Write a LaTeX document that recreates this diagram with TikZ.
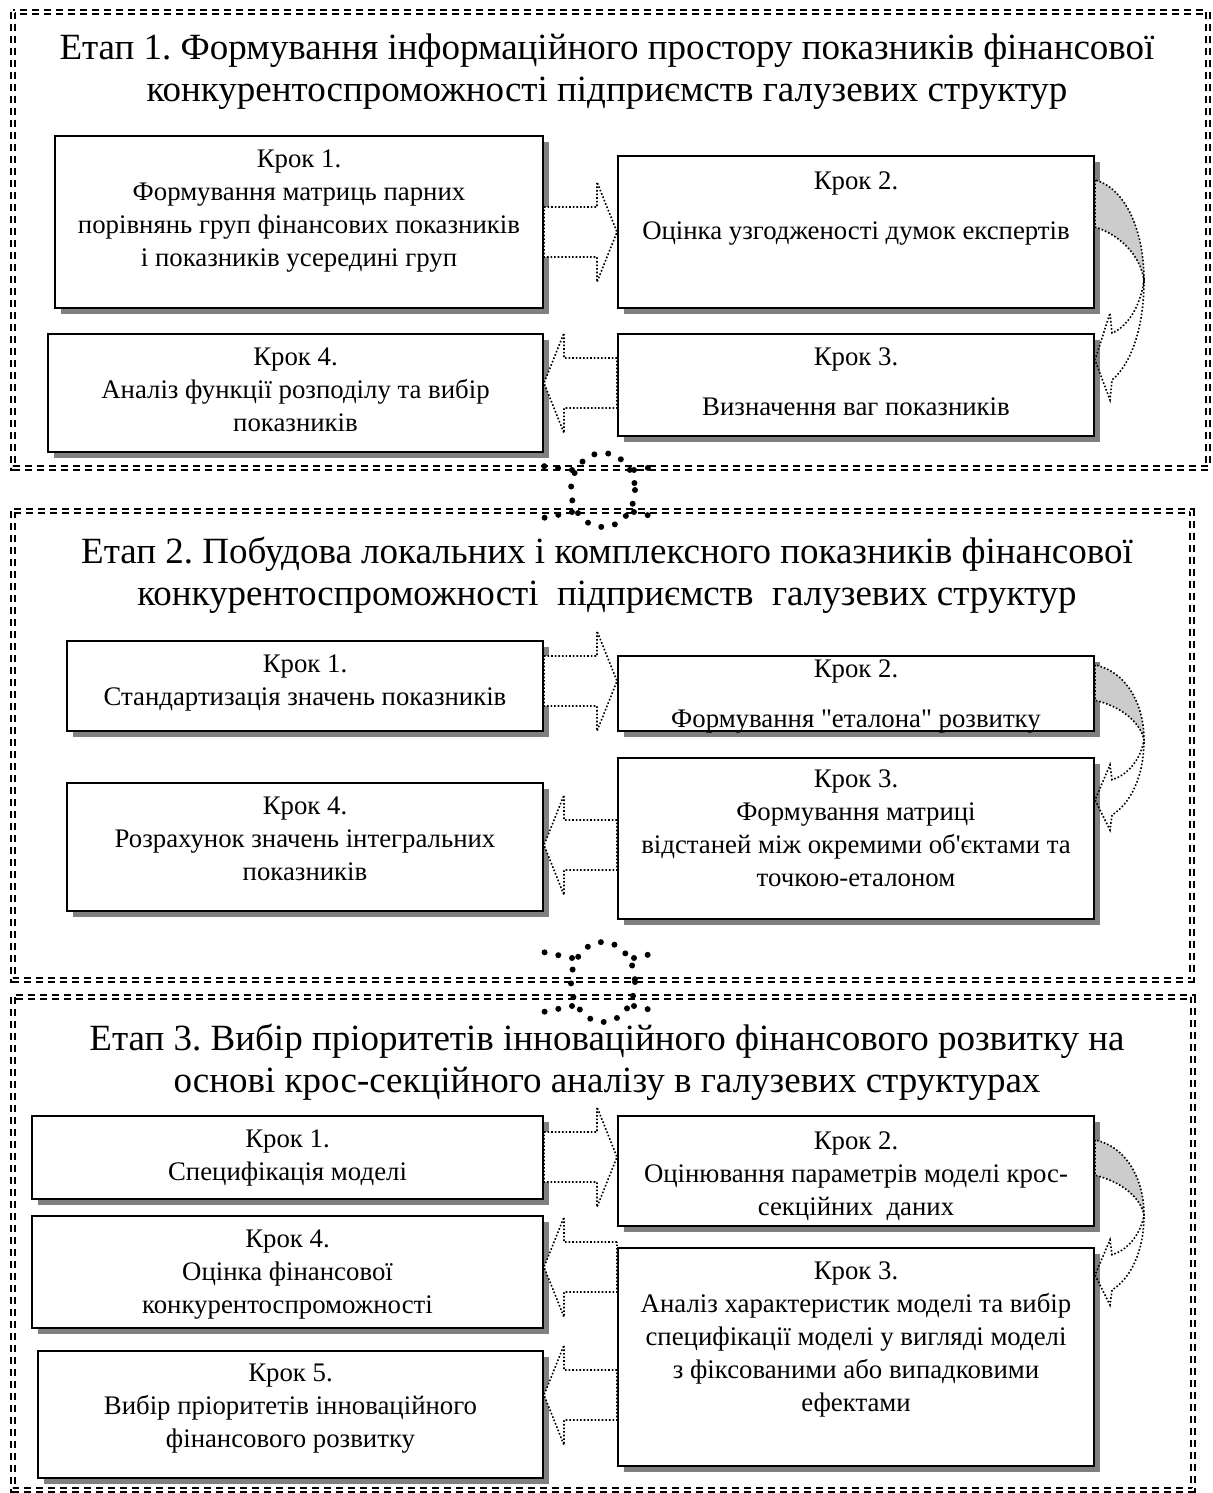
\documentclass[tikz,border=0pt]{standalone}
\usepackage{fontspec}
\setmainfont{Liberation Serif}[Ligatures=TeXOff]
\usetikzlibrary{calc,shadows}
\frenchspacing

\tikzset{
  stageframe/.style={draw, line width=0.7pt, double distance=1.2pt, dash pattern=on 3.5pt off 2.5pt},
  stagetitle/.style={align=center, inner sep=0pt, anchor=north, font=\fontsize{18.5}{21}\selectfont},
  stepbox/.style={draw, line width=1pt, fill=white, anchor=north west,
    drop shadow={shadow xshift=3pt, shadow yshift=-3pt, fill=black!50, opacity=1}},
  steptext/.style={align=center, inner sep=0pt, anchor=north, font=\fontsize{13.4}{16.5}\selectfont},
  blockline/.style={line width=0.8pt, dash pattern=on 0.8pt off 1pt},
  dotlink/.style={line width=3pt, line cap=round, dash pattern=on 0pt off 7pt},
}

% wide hollow arrow between two boxes at height #3
\newcommand{\fatarrow}[3]{%
  \draw[blockline, fill=white] let \p1=(#1 |- 0,#3), \p2=(#2 |- 0,#3), \n1={10*sign(\x2-\x1)} in
    ({\x1},{\y1+12.5pt}) -- ({\x2-\n1},{\y1+12.5pt}) -- ({\x2-\n1},{\y1+25pt}) -- ({\x2},{\y1})
    -- ({\x2-\n1},{\y1-25pt}) -- ({\x2-\n1},{\y1-12.5pt}) -- ({\x1},{\y1-12.5pt}) -- cycle;}

% bent arrow on the right side, from box to the box below
\newcommand{\bendarrow}[2]{%
  \begin{scope}[shift={(#1)}, yscale=#2]
    \fill[black!20] (0,0) .. controls (30,8) and (49,50) .. (49,100)
      .. controls (45,75) and (25,55) .. (0,47) -- cycle;
    \draw[blockline] (0,0) -- (0,47) .. controls (25,55) and (45,75) .. (49,100)
      .. controls (45,130) and (30,148) .. (17,153) -- (15,133) -- (0,180) -- (15,220) -- (17,200)
      .. controls (35,185) and (49,150) .. (49,100) .. controls (49,50) and (30,8) .. (0,0);
  \end{scope}}

\begin{document}
\begin{tikzpicture}[x=0.5pt, y=-0.5pt]
  \useasboundingbox (0,0) rectangle (1213,1493);

  % stage frames
  \draw[stageframe] (13,12) rectangle (1208,468);
  \draw[stageframe] (13,511) rectangle (1192,980);
  \draw[stageframe] (13,997) rectangle (1193,1490);

  % stage 1
  \node[stagetitle] (t1) at (607,33) {Етап 1. Формування інформаційного простору показників фінансової\\конкурентоспроможності підприємств галузевих структур};

  \node[stepbox, minimum width=244pt, minimum height=86pt] (s1k1) at (54,135) {};
  \node[steptext] (s1k1t) at ([yshift=-7pt]s1k1.north) {Крок 1.\\Формування матриць парних\\порівнянь груп фінансових показників\\і показників усередині груп};
  \node[stepbox, minimum width=238pt, minimum height=76pt] (s1k2) at (617,155) {};
  \node[steptext] (s1k2t) at ([yshift=-8pt]s1k2.north) {Крок 2.\\[8.5pt]Оцінка узгодженості думок експертів};
  \node[stepbox, minimum width=238pt, minimum height=51pt] (s1k3) at (617,333) {};
  \node[steptext] (s1k3t) at ([yshift=-7pt]s1k3.north) {Крок 3.\\[8.5pt]Визначення ваг показників};
  \node[stepbox, minimum width=247.5pt, minimum height=59pt] (s1k4) at (47,333) {};
  \node[steptext] (s1k4t) at ([yshift=-7pt]s1k4.north) {Крок 4.\\Аналіз функції розподілу та вибір\\показників};

  \fatarrow{s1k1.east}{s1k2.west}{232}
  \fatarrow{s1k3.west}{s1k4.east}{383}
  \bendarrow{s1k2.east |- 0,180}{1}

  % stage 2
  \node[stagetitle] (t2) at (607,537) {Етап 2. Побудова локальних і комплексного показників фінансової\\конкурентоспроможності\ \ підприємств\ \ галузевих структур};

  \node[stepbox, minimum width=238pt, minimum height=45pt] (s2k1) at (66,640) {};
  \node[steptext] (s2k1t) at ([yshift=-7pt]s2k1.north) {Крок 1.\\Стандартизація значень показників};
  \node[stepbox, minimum width=238pt, minimum height=37.5pt] (s2k2) at (617,655) {};
  \begin{scope}
    \clip (s2k2.south west) rectangle (s2k2.north east);
    \node[steptext] (s2k2t) at ([yshift=-2pt]s2k2.north) {Крок 2.\\[8.5pt]Формування "еталона" розвитку};
  \end{scope}
  \node[stepbox, minimum width=238pt, minimum height=80.5pt] (s2k3) at (617,757) {};
  \node[steptext] (s2k3t) at ([yshift=-6pt]s2k3.north) {Крок 3.\\Формування матриці\\відстаней між окремими об'єктами та\\точкою-еталоном};
  \node[stepbox, minimum width=238pt, minimum height=64pt] (s2k4) at (66,782) {};
  \node[steptext] (s2k4t) at ([yshift=-7pt]s2k4.north) {Крок 4.\\Розрахунок значень інтегральних\\показників};

  \fatarrow{s2k1.east}{s2k2.west}{681}
  \fatarrow{s2k3.west}{s2k4.east}{845}
  \bendarrow{s2k2.east |- 0,665}{0.75}

  % stage 3
  \node[stagetitle] (t3) at (607,1024) {Етап 3. Вибір пріоритетів інноваційного фінансового розвитку на\\основі крос-секційного аналізу в галузевих структурах};

  \node[stepbox, minimum width=255.5pt, minimum height=41.5pt] (s3k1) at (31,1115) {};
  \node[steptext] (s3k1t) at ([yshift=-7pt]s3k1.north) {Крок 1.\\Специфікація моделі};
  \node[stepbox, minimum width=238pt, minimum height=55pt] (s3k2) at (617,1115) {};
  \node[steptext] (s3k2t) at ([yshift=-8pt]s3k2.north) {Крок 2.\\Оцінювання параметрів моделі крос-\\секційних\ \ даних};
  \node[stepbox, minimum width=238pt, minimum height=109pt] (s3k3) at (617,1247) {};
  \node[steptext] (s3k3t) at ([yshift=-7pt]s3k3.north) {Крок 3.\\Аналіз характеристик моделі та вибір\\специфікації моделі у вигляді моделі\\з фіксованими або випадковими\\ефектами};
  \node[stepbox, minimum width=255.5pt, minimum height=56pt] (s3k4) at (31,1215) {};
  \node[steptext] (s3k4t) at ([yshift=-7pt]s3k4.north) {Крок 4.\\Оцінка фінансової\\конкурентоспроможності};
  \node[stepbox, minimum width=252.5pt, minimum height=63.5pt] (s3k5) at (37,1350) {};
  \node[steptext] (s3k5t) at ([yshift=-7pt]s3k5.north) {Крок 5.\\Вибір пріоритетів інноваційного\\фінансового розвитку};

  \fatarrow{s3k1.east}{s3k2.west}{1157}
  \fatarrow{s3k3.west}{s3k4.east}{1267}
  \fatarrow{s3k3.west}{s3k5.east}{1395}
  \bendarrow{s3k2.east |- 0,1140}{0.75}

  % links between stages
  \draw[dotlink] (603,490) ellipse [x radius=32, y radius=37];
  \draw[dotlink] (572,470) -- (543,466);
  \draw[dotlink] (572,512) -- (543,518);
  \draw[dotlink] (634,470) -- (660,466);
  \draw[dotlink] (634,512) -- (660,518);

  \draw[dotlink] (603,982) ellipse [x radius=32, y radius=40];
  \draw[dotlink] (572,958) -- (543,952);
  \draw[dotlink] (572,1006) -- (543,1012);
  \draw[dotlink] (634,958) -- (660,952);
  \draw[dotlink] (634,1006) -- (660,1012);
\end{tikzpicture}
\end{document}
